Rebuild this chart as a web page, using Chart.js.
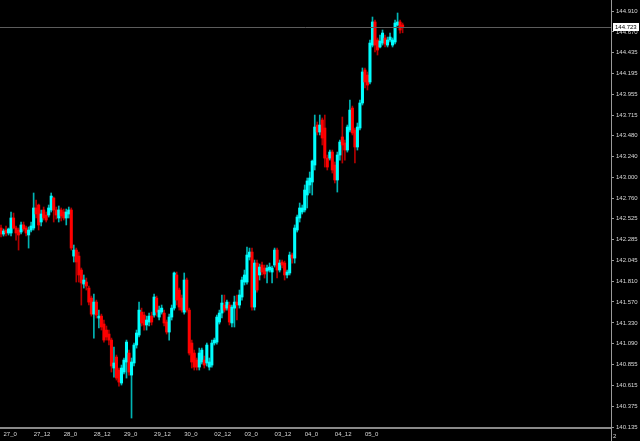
<!DOCTYPE html>
<html><head><meta charset="utf-8">
<script src="https://cdn.jsdelivr.net/npm/chart.js@4.4.1/dist/chart.umd.min.js"></script>
<style>html,body{margin:0;padding:0;background:#000;overflow:hidden}canvas{display:block;background:#000}</style>
</head><body>
<canvas id="c" width="640" height="441"></canvas>
<script>
// ---- data ----
const xTickLabels = ["27_0","27_12","28_0","28_12","29_0","29_12","30_0","02_12","03_0","03_12","04_0","04_12","05_0"];
const xTickBars = [1,13,25,37,49,61,73,85,97,109,121,133,145];
const yTickValues = [144.910,144.670,144.435,144.195,143.955,143.715,143.480,143.240,143.000,142.760,142.525,142.285,142.045,141.810,141.570,141.330,141.090,140.855,140.615,140.375,140.135];

const opens = [142.419,142.350,142.396,142.362,142.362,142.534,142.419,142.396,142.373,142.454,142.419,142.339,142.396,142.419,142.649,142.683,142.488,142.626,142.568,142.568,142.626,142.763,142.626,142.534,142.626,142.603,142.534,142.580,142.626,142.097,142.166,142.097,141.937,141.776,141.799,141.730,141.615,141.431,141.569,141.386,141.408,141.317,141.248,141.202,141.133,140.812,140.938,140.789,140.640,140.766,140.881,140.984,140.731,140.870,141.076,141.191,141.454,141.420,141.306,141.340,141.408,141.420,141.615,141.397,141.454,141.443,141.340,141.225,141.397,141.500,141.880,141.707,141.615,141.454,141.822,141.477,141.099,140.984,140.904,140.823,140.881,140.904,140.870,140.823,140.846,141.099,141.110,141.340,141.443,141.535,141.500,141.535,141.329,141.500,141.569,141.535,141.627,141.799,141.799,142.086,142.143,141.512,142.017,141.880,141.994,141.960,141.925,141.937,141.914,141.994,142.166,141.937,142.029,142.017,141.880,141.903,142.109,142.074,142.396,142.534,142.603,142.626,142.798,142.913,142.947,143.142,143.601,143.521,143.659,143.567,143.222,143.222,143.291,143.142,142.970,143.257,143.464,143.395,143.314,143.544,143.796,143.544,143.349,143.567,143.854,144.233,144.175,144.095,144.519,144.784,144.577,144.497,144.542,144.600,144.519,144.577,144.519,144.554,144.749,144.784,144.750];
const highs = [142.454,142.408,142.442,142.419,142.603,142.591,142.442,142.419,142.488,142.488,142.442,142.431,142.488,142.821,142.740,142.694,142.626,142.660,142.603,142.683,142.821,142.775,142.660,142.672,142.649,142.637,142.637,142.660,142.649,142.224,142.189,142.143,141.960,141.880,141.845,141.753,141.638,141.661,141.592,141.477,141.431,141.363,141.294,141.248,141.156,141.053,140.961,140.812,140.846,140.927,141.133,141.018,140.927,141.099,141.248,141.569,141.500,141.454,141.408,141.443,141.454,141.661,141.638,141.523,141.535,141.477,141.363,141.431,141.535,141.914,141.914,141.730,141.650,141.903,141.845,141.500,141.133,141.018,140.927,141.041,141.041,140.950,141.099,140.927,141.133,141.156,141.420,141.477,141.650,141.650,141.592,141.569,141.535,141.638,141.650,141.707,141.857,141.937,142.201,142.189,142.189,142.052,142.052,142.006,142.029,141.994,141.994,142.017,141.983,142.189,142.189,142.052,142.052,142.040,141.937,142.143,142.132,142.454,142.568,142.706,142.683,142.913,142.993,143.062,143.199,143.716,143.636,143.716,143.682,143.716,143.257,143.314,143.314,143.177,143.291,143.429,143.693,143.429,143.601,143.888,143.819,143.567,143.624,143.888,144.256,144.256,144.210,144.577,144.841,144.806,144.600,144.635,144.692,144.635,144.611,144.657,144.600,144.806,144.887,144.806,144.772];
const lows = [142.316,142.327,142.327,142.339,142.327,142.408,142.281,142.166,142.350,142.385,142.327,142.189,142.373,142.396,142.534,142.396,142.442,142.511,142.488,142.545,142.603,142.488,142.522,142.488,142.500,142.511,142.454,142.534,142.166,142.029,141.799,141.799,141.535,141.730,141.707,141.535,141.408,141.156,141.386,141.271,141.248,141.110,141.133,141.076,140.766,140.708,140.674,140.605,140.617,140.743,140.697,140.731,140.238,140.835,141.041,141.168,141.294,141.248,141.248,141.294,141.306,141.397,141.408,141.363,141.431,141.294,141.202,141.133,141.363,141.477,141.535,141.477,141.454,141.431,141.454,140.961,140.812,140.789,140.789,140.789,140.858,140.812,140.835,140.789,140.823,141.076,141.087,141.317,141.386,141.454,141.477,141.306,141.283,141.283,141.363,141.500,141.592,141.765,141.776,142.052,141.477,141.477,141.684,141.822,141.880,141.845,141.788,141.914,141.788,141.971,141.845,141.914,141.960,141.822,141.845,141.880,142.017,142.017,142.373,142.488,142.580,142.603,142.649,142.821,142.798,143.085,143.487,143.487,143.372,143.119,143.085,143.199,143.050,142.936,142.832,143.199,143.165,143.199,143.291,143.521,143.487,143.165,143.314,143.544,143.831,144.026,144.003,144.072,144.497,144.439,144.405,144.485,144.519,144.497,144.497,144.554,144.497,144.531,144.738,144.657,144.660];
const closes = [142.350,142.385,142.362,142.408,142.534,142.419,142.362,142.339,142.454,142.408,142.362,142.396,142.442,142.649,142.580,142.454,142.580,142.534,142.511,142.649,142.786,142.626,142.568,142.626,142.557,142.534,142.603,142.626,142.189,142.166,142.029,141.880,141.788,141.822,141.753,141.569,141.431,141.569,141.420,141.408,141.283,141.133,141.168,141.133,140.835,140.870,140.697,140.651,140.812,140.904,141.110,140.766,140.881,141.076,141.214,141.477,141.329,141.306,141.363,141.408,141.340,141.627,141.454,141.477,141.500,141.329,141.225,141.397,141.500,141.903,141.592,141.512,141.477,141.822,141.477,140.984,140.881,140.823,140.823,140.984,141.018,140.846,141.076,140.881,141.099,141.133,141.397,141.443,141.558,141.477,141.569,141.340,141.512,141.569,141.535,141.650,141.822,141.880,142.109,142.143,141.512,142.017,141.707,141.971,141.914,141.891,141.960,141.971,141.960,142.166,141.937,142.017,141.994,141.880,141.914,142.109,142.074,142.419,142.545,142.649,142.649,142.855,142.959,142.993,143.187,143.578,143.521,143.601,143.452,143.222,143.119,143.291,143.085,142.970,143.257,143.406,143.372,143.314,143.578,143.773,143.510,143.349,143.578,143.854,144.210,144.095,144.060,144.542,144.784,144.519,144.462,144.565,144.657,144.531,144.577,144.611,144.577,144.772,144.784,144.692,144.723];

const lastPrice = closes[closes.length - 1];
const barIdx = opens.map((_, i) => i);
const isUp = i => closes[i] >= opens[i];

const wickData = barIdx.map(i => ({x: i, y: [lows[i], highs[i]]}));
const bodyData = barIdx.map(i => ({x: i, y: [opens[i], closes[i]]}));

const FONT = {family: '"Liberation Sans", Arial, sans-serif', size: 6};
const TXT = '#d8d8d8';
const AXIS = '#9a9a9a';

const overlay = {
  id: 'overlay',
  afterDatasetsDraw(chart) {
    const {ctx, chartArea, scales: {y}} = chart;
    const py = Math.round(y.getPixelForValue(lastPrice)) + 0.5;
    ctx.save();
    ctx.strokeStyle = '#5c5c5c';
    ctx.lineWidth = 1;
    ctx.beginPath();
    ctx.moveTo(chartArea.left, py);
    ctx.lineTo(chartArea.right, py);
    ctx.stroke();
    ctx.restore();
  },
  afterDraw(chart) {
    const {ctx, chartArea, scales: {y}} = chart;
    const py = Math.round(y.getPixelForValue(lastPrice));
    ctx.save();
    ctx.strokeStyle = AXIS;
    ctx.lineWidth = 1;
    ctx.beginPath();
    ctx.moveTo(chartArea.right + 0.5, chartArea.bottom);
    ctx.lineTo(chartArea.right + 0.5, chart.height);
    ctx.stroke();
    ctx.fillStyle = '#ffffff';
    ctx.fillRect(chartArea.right + 2, py - 4, 26, 8);
    ctx.fillStyle = '#000000';
    ctx.font = '6px "Liberation Sans", Arial, sans-serif';
    ctx.textBaseline = 'middle';
    ctx.textAlign = 'left';
    ctx.fillText(lastPrice.toFixed(3), chartArea.right + 4, py + 0.5);
    ctx.fillStyle = TXT;
    ctx.fillText('2', chartArea.right + 2, chartArea.bottom + 8);
    ctx.restore();
  }
};

new Chart(document.getElementById('c'), {
  type: 'bar',
  data: {
    datasets: [
      {
        data: wickData,
        backgroundColor: barIdx.map(i => isUp(i) ? '#00b4b4' : '#b40000'),
        barThickness: 1,
        grouped: false,
        borderWidth: 0,
        order: 2
      },
      {
        data: bodyData,
        backgroundColor: barIdx.map(i => isUp(i) ? '#00ffff' : '#ff0000'),
        barThickness: 2.4,
        minBarLength: 1,
        grouped: false,
        borderWidth: 0,
        order: 1
      }
    ]
  },
  options: {
    responsive: false,
    animation: false,
    devicePixelRatio: 1,
    layout: {padding: 0},
    plugins: {legend: {display: false}, tooltip: {enabled: false}},
    scales: {
      x: {
        type: 'linear',
        min: -0.398,
        max: 243.03,
        offset: false,
        grid: {display: false, drawTicks: false},
        border: {display: true, color: '#8a8a8a', width: 2},
        ticks: {
          autoSkip: false, maxRotation: 0, minRotation: 0,
          align: 'start', padding: 3, color: TXT, font: FONT,
          callback: v => { const k = xTickBars.indexOf(v); return k >= 0 ? xTickLabels[k] : ''; }
        },
        afterBuildTicks: s => { s.ticks = xTickBars.map(v => ({value: v})); },
        afterFit: s => { s.height = 13; s.paddingLeft = 0; s.paddingRight = 0; }
      },
      y: {
        position: 'right',
        min: 140.1237,
        max: 145.0363,
        grid: {drawOnChartArea: false, drawTicks: true, tickLength: 3, tickColor: AXIS, tickWidth: 1},
        border: {display: true, color: AXIS, width: 1},
        ticks: {padding: 2, color: TXT, font: FONT, autoSkip: false, callback: v => Number(v).toFixed(3)},
        afterBuildTicks: s => { s.ticks = yTickValues.map(v => ({value: v})); },
        afterFit: s => { s.width = 29; s.paddingTop = 0; s.paddingBottom = 0; }
      }
    }
  },
  plugins: [overlay]
});
</script>
</body></html>
